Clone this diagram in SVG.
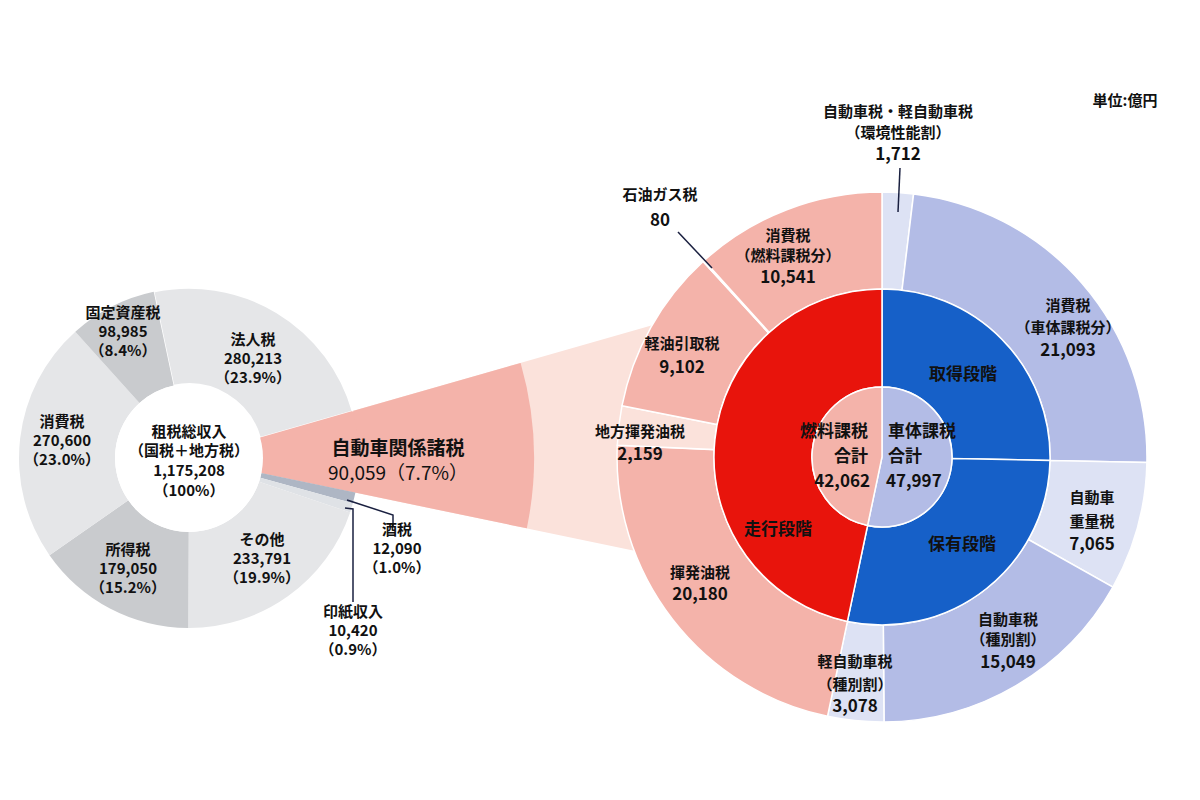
<svg xmlns="http://www.w3.org/2000/svg" width="1200" height="800" viewBox="0 0 1200 800">
<style>
text{font-family:"Noto Sans CJK JP","Noto Sans",sans-serif;font-weight:bold;fill:#111;text-anchor:middle;font-size:15px}
.b{font-size:17px}
.w{stroke:#fff;stroke-width:1.5}
.lg{fill:#e5e6e8}.dg{fill:#c9cbce}
.pk{fill:#f4b3aa}.lp{fill:#fbe2db}.rd{fill:#e8140c}
.bl{fill:#1660c8}.lv{fill:#b3bce6}.ll{fill:#dde2f4}
.ln{stroke:#1a2040;stroke-width:1.5;fill:none}
</style>
<rect width="1200" height="800" fill="#fff"/>
<g id="band">
<path d="M260.1,437.6 A74,74 0 0 1 261.4,473.1 L698.1,564 A520,520 0 0 0 688.9,314.7 Z" class="lp"/>
<path d="M260.1,437.6 L520.6,362.9 A345,345 0 0 1 526.8,528.3 L261.4,473.1 Z" class="pk"/>
</g>
<g id="total-donut">
<path id="houjin" class="lg w" d="M153.7,291.7 A170,170 0 0 1 352.4,411.1 L260.1,437.6 A74,74 0 0 0 173.6,385.6 Z"/>
<path id="jidousha" class="pk" d="M352.4,411.1 A170,170 0 0 1 355.4,492.6 L261.4,473.1 A74,74 0 0 0 260.1,437.6 Z"/>
<path id="sake" fill="#aeb6c4" d="M355.4,492.6 A170,170 0 0 1 352.8,503.3 L260.3,477.7 A74,74 0 0 0 261.4,473.1 Z"/>
<path id="inshi" fill="#dfe2e6" d="M352.8,503.3 A170,170 0 0 1 350.1,512.4 L259.1,481.7 A74,74 0 0 0 260.3,477.7 Z"/>
<path id="sonota" class="lg" d="M350.1,512.4 A170,170 0 0 1 188.2,628 L188.7,532 A74,74 0 0 0 259.1,481.7 Z"/>
<path id="shotoku" class="dg" d="M188.2,628 A170,170 0 0 1 49.5,555.2 L128.3,500.3 A74,74 0 0 0 188.7,532 Z"/>
<path id="shouhi" class="lg" d="M49.5,555.2 A170,170 0 0 1 75.3,331.7 L139.5,403 A74,74 0 0 0 128.3,500.3 Z"/>
<path id="kotei" class="dg" d="M75.3,331.7 A170,170 0 0 1 153.7,291.7 L173.6,385.6 A74,74 0 0 0 139.5,403 Z"/>
<circle cx="189" cy="458" r="74" fill="#fff"/>
</g>
<g id="car-donut">
<path class="ll w" d="M882,192 A265,265 0 0 1 913.6,193.9 L902,290.2 A168,168 0 0 0 882,289 Z"/>
<path class="lv w" d="M913.6,193.9 A265,265 0 0 1 1146.9,462.4 L1050,460.4 A168,168 0 0 0 902,290.2 Z"/>
<path class="ll w" d="M1146.9,462.4 A265,265 0 0 1 1112.9,587.1 L1028.4,539.5 A168,168 0 0 0 1050,460.4 Z"/>
<path class="lv w" d="M1112.9,587.1 A265,265 0 0 1 884,722 L883.3,625 A168,168 0 0 0 1028.4,539.5 Z"/>
<path class="ll w" d="M884,722 A265,265 0 0 1 827.5,716.3 L847.4,621.4 A168,168 0 0 0 883.3,625 Z"/>
<path class="pk w" d="M827.5,716.3 A265,265 0 0 1 617.3,445.3 L714.2,449.6 A168,168 0 0 0 847.4,621.4 Z"/>
<path class="lp w" d="M617.3,445.3 A265,265 0 0 1 622,405.7 L717.2,424.5 A168,168 0 0 0 714.2,449.6 Z"/>
<path class="pk w" d="M622,405.7 A265,265 0 0 1 703.1,261.5 L768.6,333 A168,168 0 0 0 717.2,424.5 Z"/>
<path class="pk w" d="M703.1,261.5 A265,265 0 0 1 704.2,260.5 L769.3,332.4 A168,168 0 0 0 768.6,333 Z"/>
<path class="pk w" d="M704.2,260.5 A265,265 0 0 1 882,192 L882,289 A168,168 0 0 0 769.3,332.4 Z"/>
<path class="bl w" d="M882,289 A168,168 0 0 1 1050,460.4 L952,458.4 A70,70 0 0 0 882,387 Z"/>
<path class="bl w" d="M1050,460.4 A168,168 0 0 1 847.4,621.4 L867.6,525.5 A70,70 0 0 0 952,458.4 Z"/>
<path class="rd w" d="M847.4,621.4 A168,168 0 0 1 882,289 L882,387 A70,70 0 0 0 867.6,525.5 Z"/>
<path class="lv w" d="M882,457 L882,387 A70,70 0 1 1 867.6,525.5 Z"/>
<path class="pk w" d="M882,457 L867.6,525.5 A70,70 0 0 1 882,387 Z"/>
</g>
<g id="connectors">
<polyline class="ln" points="347,500 393,515 393,527"/>
<polyline class="ln" points="345,508 353,509 353,602"/>
<line class="ln" x1="678" y1="232" x2="712" y2="268"/>
<line class="ln" x1="900" y1="168" x2="898" y2="212"/>
</g>
<g id="labels">
<text x="123" y="318">固定資産税</text><text x="123" y="337">98,985</text><text x="123" y="356">（8.4%）</text>
<text x="253" y="345">法人税</text><text x="253" y="364">280,213</text><text x="253" y="383">（23.9%）</text>
<text x="62" y="427">消費税</text><text x="62" y="446">270,600</text><text x="62" y="465">（23.0%）</text>
<text x="128" y="555">所得税</text><text x="128" y="574">179,050</text><text x="128" y="593">（15.2%）</text>
<text x="262" y="545">その他</text><text x="262" y="564">233,791</text><text x="262" y="583">（19.9%）</text>
<text x="189" y="437">租税総収入</text><text x="189" y="456">（国税＋地方税）</text><text x="189" y="476">1,175,208</text><text x="189" y="496">（100%）</text>
<text x="397" y="535">酒税</text><text x="397" y="554">12,090</text><text x="397" y="573">（1.0%）</text>
<text x="353" y="617">印紙収入</text><text x="353" y="636">10,420</text><text x="353" y="655">（0.9%）</text>
<text x="398" y="455" style="font-size:19px">自動車関係諸税</text><text x="398" y="480" style="font-size:19px;font-weight:normal">90,059（7.7%）</text>
<text x="1125" y="106">単位:億円</text>
<text x="898" y="117">自動車税・軽自動車税</text><text x="898" y="138">（環境性能割）</text><text x="898" y="160" class="b">1,712</text>
<text x="660" y="200">石油ガス税</text><text x="660" y="226" class="b">80</text>
<text x="788" y="241">消費税</text><text x="788" y="261">（燃料課税分）</text><text x="788" y="283" class="b">10,541</text>
<text x="1068" y="311">消費税</text><text x="1068" y="333">（車体課税分）</text><text x="1068" y="356" class="b">21,093</text>
<text x="682" y="349">軽油引取税</text><text x="682" y="373" class="b">9,102</text>
<text x="640" y="437">地方揮発油税</text><text x="640" y="460" class="b">2,159</text>
<text x="868" y="437" class="b" style="text-anchor:end">燃料課税</text><text x="868" y="462" class="b" style="text-anchor:end">合計</text><text x="870" y="487" class="b" style="text-anchor:end">42,062</text>
<text x="888" y="437" class="b" style="text-anchor:start">車体課税</text><text x="888" y="462" class="b" style="text-anchor:start">合計</text><text x="886" y="487" class="b" style="text-anchor:start">47,997</text>
<text x="963" y="380" class="b">取得段階</text>
<text x="778" y="535" class="b">走行段階</text>
<text x="962" y="550" class="b">保有段階</text>
<text x="1092" y="503">自動車</text><text x="1092" y="527">重量税</text><text x="1092" y="550" class="b">7,065</text>
<text x="1008" y="625">自動車税</text><text x="1008" y="645">（種別割）</text><text x="1008" y="668" class="b">15,049</text>
<text x="855" y="667">軽自動車税</text><text x="855" y="690">（種別割）</text><text x="855" y="712" class="b">3,078</text>
<text x="700" y="578">揮発油税</text><text x="700" y="600" class="b">20,180</text>
</g>
</svg>
